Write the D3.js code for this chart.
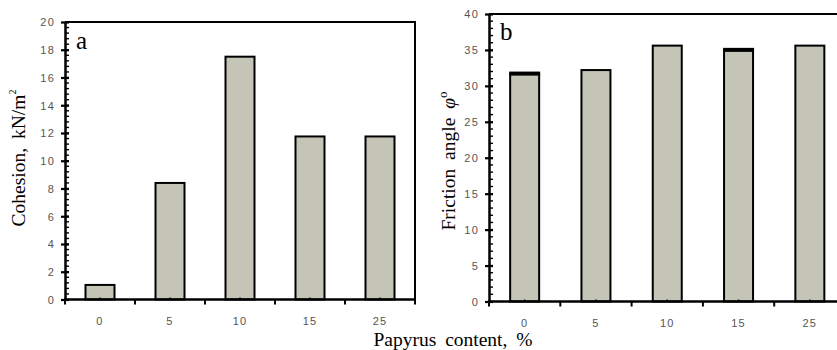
<!DOCTYPE html>
<html><head><meta charset="utf-8">
<script src="https://cdn.jsdelivr.net/npm/d3@7"></script>
<style>body{margin:0;background:#fff}svg{display:block}</style>
</head><body>
<svg id="c" width="837" height="350"></svg>
<script>
const categories = ["0","5","10","15","25"];
const cohesion = [1.05, 8.4, 17.5, 11.75, 11.75];
const friction = [31.6, 32.2, 35.6, 34.9, 35.6];
const frictionErr = [0.25, 0, 0, 0.25, 0];
const cohesionTicks = [0,2,4,6,8,10,12,14,16,18,20];
const frictionTicks = [0,5,10,15,20,25,30,35,40];

const svg = d3.select("#c");
const FILL = "#c4c4b7";
const TICKFONT = "Arial, 'Liberation Sans', sans-serif";
const SERIF = "'Liberation Serif', 'Times New Roman', serif";

function panel(opt){
  const xb = d3.scaleBand().domain(categories).range([opt.x0, opt.x1]);
  const y = d3.scaleLinear().domain([0, opt.max]).range([opt.y0, opt.y1]);
  const g = svg.append("g");
  // frame (top & right)
  g.append("path").attr("d", `M${opt.x0},${opt.y1}H${opt.x1}V${opt.y0}`)
    .attr("fill","none").attr("stroke","#000").attr("stroke-width",2);
  // bars
  g.selectAll("rect.bar").data(opt.values).join("rect")
    .attr("x",(d,i)=>xb(categories[i]) + xb.bandwidth()/2 - 14.5)
    .attr("width",29)
    .attr("y",d=>y(d)).attr("height",d=>y(0)-y(d))
    .attr("fill",FILL).attr("stroke","#000").attr("stroke-width",2);
  if(opt.err){
    g.selectAll("rect.err").data(opt.values.map((v,i)=>[v,opt.err[i]]).filter(d=>d[1]>0)).join("rect")
      .attr("x",(d)=>xb(categories[opt.values.indexOf(d[0])]) + xb.bandwidth()/2 - 15.5)
      .attr("width",31)
      .attr("y",d=>y(d[0]+d[1])-1).attr("height",d=>y(d[0])-y(d[0]+d[1])+2)
      .attr("fill","#000");
  }
  // minor y ticks inward
  const minor = d3.range(0, opt.max + 1e-9, opt.minor);
  g.selectAll("line.minor").data(minor).join("line")
    .attr("x1",opt.x0).attr("x2",opt.x0+4).attr("y1",d=>y(d)).attr("y2",d=>y(d))
    .attr("stroke","#000").attr("stroke-width",1.4);
  // y axis
  const ya = g.append("g").attr("transform",`translate(${opt.x0},0)`)
    .call(d3.axisLeft(y).tickValues(opt.ticks).tickSize(3).tickPadding(7).tickSizeOuter(0));
  ya.select(".domain").attr("stroke-width",2.5);
  ya.selectAll(".tick line").attr("x2",-4).attr("x1",4).attr("stroke-width",2.2);
  ya.selectAll(".tick text").attr("font-family",TICKFONT)
    .attr("font-size",11).attr("letter-spacing",1.2).attr("fill","#555").attr("dy","0.34em");
  // x axis (tick lines at band boundaries)
  const bounds = categories.map(c=>xb(c)).concat([opt.x1]);
  g.selectAll("line.xt").data(bounds).join("line")
    .attr("x1",d=>d).attr("x2",d=>d).attr("y1",opt.y0).attr("y2",opt.y0+5)
    .attr("stroke","#000").attr("stroke-width",2);
  g.selectAll("line.xc").data(categories).join("line")
    .attr("x1",d=>xb(d)+xb.bandwidth()/2).attr("x2",d=>xb(d)+xb.bandwidth()/2)
    .attr("y1",opt.y0).attr("y2",opt.y0-2).attr("stroke","#000").attr("stroke-width",1.5);
  g.append("line").attr("x1",opt.x0-1).attr("x2",opt.x1+1).attr("y1",opt.y0).attr("y2",opt.y0)
    .attr("stroke","#000").attr("stroke-width",2.5);
  g.selectAll("text.xl").data(categories).join("text")
    .attr("x",d=>xb(d)+xb.bandwidth()/2).attr("y",opt.y0+25)
    .attr("text-anchor","middle").attr("font-family",TICKFONT)
    .attr("font-size",11).attr("letter-spacing",1.2).attr("fill","#555").text(d=>d);
  // panel letter
  g.append("text").attr("x",opt.x0+11).attr("y",opt.y1+(opt.letterDy))
    .attr("font-family",SERIF).attr("font-size",25)
    .text(opt.letter);
  // y title
  const t = g.append("text").attr("transform",`translate(${opt.titleX},${opt.titleY}) rotate(-90)`)
    .attr("text-anchor","middle").attr("font-family",SERIF)
    .attr("font-size",19.5).attr("word-spacing",4);
  opt.title(t);
}

panel({x0:65, x1:415, y0:299.5, y1:22, max:20, values:cohesion, ticks:cohesionTicks, minor:0.4,
  letter:"a", letterDy:27, titleX:25, titleY:158,
  title:t=>{ t.append("tspan").text("Cohesion, kN/m"); t.append("tspan").attr("font-size",10).attr("dy",-9).text("2"); }});
panel({x0:489, x1:845.5, y0:301.5, y1:14, max:40, values:friction, err:frictionErr, ticks:frictionTicks, minor:1,
  letter:"b", letterDy:26, titleX:455, titleY:161,
  title:t=>{ t.append("tspan").text("Friction angle "); t.append("tspan").attr("font-style","italic").text("φ"); t.append("tspan").attr("font-size",13).attr("dy",-8).text("o"); }});

svg.append("text").attr("x",453).attr("y",346).attr("text-anchor","middle")
  .attr("font-family",SERIF).attr("font-size",19.5)
  .attr("word-spacing",4).text("Papyrus content, %");
</script>
</body></html>
